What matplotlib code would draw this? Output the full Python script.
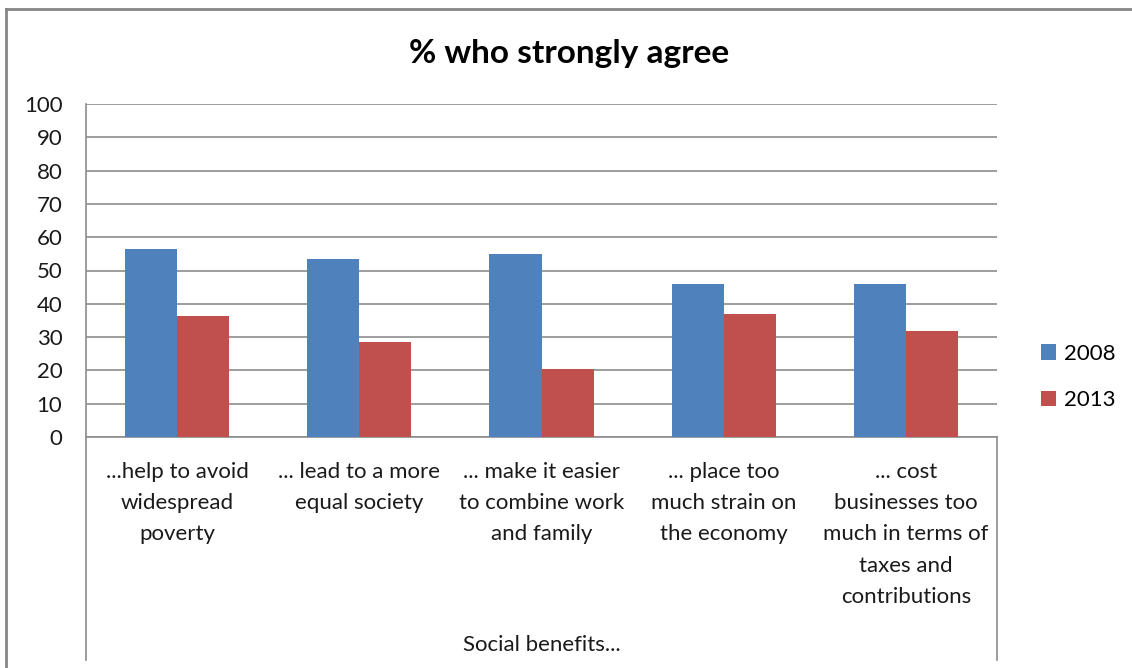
import matplotlib
matplotlib.use("Agg")
import matplotlib.pyplot as plt
import numpy as np
from matplotlib.lines import Line2D

categories = [
    "...help to avoid\nwidespread\npoverty",
    "... lead to a more\nequal society",
    "... make it easier\nto combine work\nand family",
    "... place too\nmuch strain on\nthe economy",
    "... cost\nbusinesses too\nmuch in terms of\ntaxes and\ncontributions",
]
series_names = ["2008", "2013"]
values_2008 = [56.5, 53.6, 55.1, 45.8, 45.8]
values_2013 = [36.2, 28.4, 20.3, 37.0, 31.8]
yticks = list(range(0, 101, 10))
title = "% who strongly agree"
axis_title = "Social benefits..."

plt.rcParams['font.family'] = ['Lato', 'DejaVu Sans']

W, H = 1132, 668
fig = plt.figure(figsize=(W / 100, H / 100), dpi=100)
fig.patch.set_facecolor("white")

# outer chart border
fig.add_artist(Line2D([6 / W, 6 / W], [0, 1 - 9 / H], transform=fig.transFigure,
                      color="#868686", lw=2))
fig.add_artist(Line2D([6 / W, 1], [1 - 9 / H, 1 - 9 / H], transform=fig.transFigure,
                      color="#868686", lw=2))

left, right, bottom, top = 86, 997, 437, 104
ax = fig.add_axes([left / W, 1 - bottom / H, (right - left) / W, (bottom - top) / H])

x = np.arange(len(categories))
bw = 1 / 3.5
ax.bar(x - bw / 2, values_2008, bw, color="#4F81BD", label=series_names[0], zorder=3)
ax.bar(x + bw / 2, values_2013, bw, color="#C0504D", label=series_names[1], zorder=3)

ax.set_xlim(-0.5, len(categories) - 0.5)
ax.set_ylim(0, 100)
ax.set_yticks(yticks)
ax.set_yticklabels([str(v) for v in yticks], fontsize=16, color="#1a1a1a")
ax.yaxis.grid(True, color="#8c8c8c", lw=1.2, zorder=0)
ax.tick_params(axis="y", length=0, pad=17)

ax.set_xticks(x)
ax.set_xticklabels(categories, fontsize=16, color="#1a1a1a", linespacing=1.70, va="top")
ax.tick_params(axis="x", length=0, pad=18)

for s in ["top", "right"]:
    ax.spines[s].set_visible(False)
ax.spines["left"].set_color("#8c8c8c")
ax.spines["bottom"].set_color("#8c8c8c")
ax.spines["left"].set_linewidth(1.2)
ax.spines["bottom"].set_linewidth(1.2)

# multi-level category axis box lines
ybot = -(660 - bottom) / (bottom - top)
for xx in (0, 1):
    ax.add_artist(Line2D([xx, xx], [0, ybot], transform=ax.transAxes, color="#8c8c8c",
                         lw=1.2, clip_on=False))

ax.text(0.5, -(645 - bottom) / (bottom - top), axis_title, transform=ax.transAxes,
        ha="center", va="center", fontsize=16, color="#1a1a1a")

fig.text(569 / W, 1 - 53 / H, title, ha="center", va="center",
         fontsize=24, fontweight="bold", color="black")

leg = ax.legend(loc="center left", bbox_to_anchor=(1.048, 0.18), frameon=False,
                fontsize=16, handlelength=0.7, handleheight=0.7, handletextpad=0.35,
                labelspacing=1.2, borderaxespad=0, borderpad=0)

fig.savefig("out.png", dpi=100, facecolor="white")
